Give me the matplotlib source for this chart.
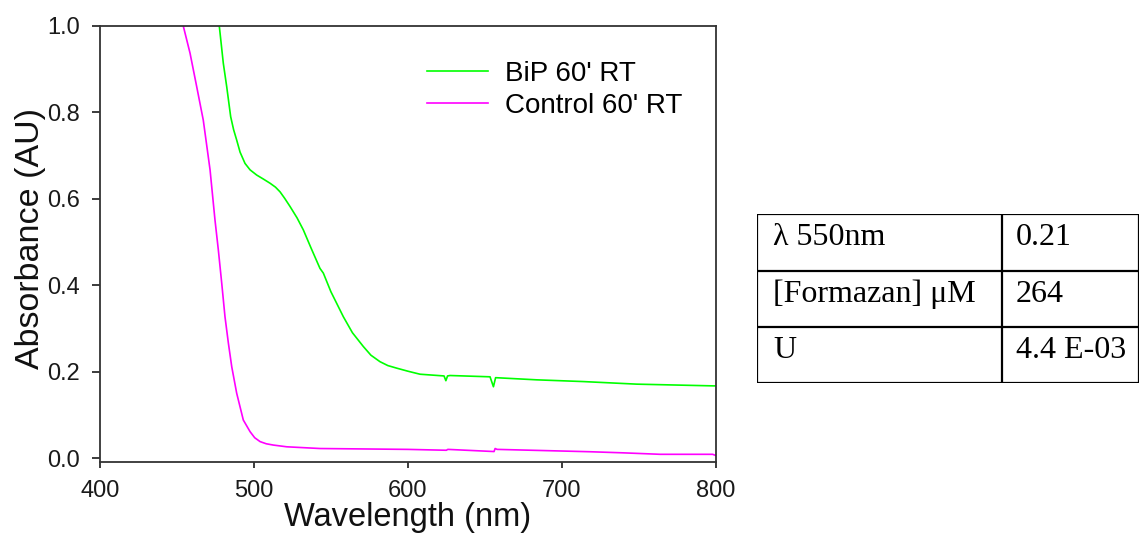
import numpy as np
import matplotlib.pyplot as plt

plt.rcParams['font.family'] = ['Liberation Sans', 'DejaVu Sans']

# BiP 60' RT spectrum
bip_wl = [477.5, 480.1, 482.3, 484.9, 486.8, 488.8, 491.0, 494.2, 497.5, 501.8,
          506.0, 510.5, 514.0, 517.0, 520.0, 523.5, 528.0, 532.1, 537.0, 542.9,
          545.1, 550.0, 558.1, 564.0, 571.1, 576.0, 581.9, 587.0, 592.8, 600.0,
          607.9, 623.5, 624.7, 625.8, 627.4, 653.4, 655.6, 657.0, 683.7, 713.8,
          748.7, 798.5, 800.0]
bip_abs = [1.0, 0.914, 0.860, 0.790, 0.760, 0.736, 0.708, 0.682, 0.667, 0.655,
           0.646, 0.636, 0.627, 0.616, 0.601, 0.582, 0.556, 0.528, 0.487, 0.439,
           0.428, 0.385, 0.327, 0.290, 0.258, 0.238, 0.223, 0.214, 0.208, 0.201,
           0.194, 0.190, 0.179, 0.190, 0.191, 0.188, 0.165, 0.186, 0.181, 0.177,
           0.171, 0.167, 0.167]

# Control 60' RT spectrum
ctl_wl = [454.1, 458.5, 462.8, 467.1, 471.5, 474.7, 476.9, 479.1, 481.2, 483.4,
          485.6, 488.8, 493.1, 497.5, 500.5, 504.0, 508.0, 512.6, 521.3, 543.0,
          600.0, 625.0, 626.0, 656.0, 656.7, 658.0, 718.0, 740.0, 764.0, 798.0,
          800.0]
ctl_abs = [1.0, 0.937, 0.860, 0.782, 0.667, 0.551, 0.481, 0.404, 0.327, 0.266,
           0.211, 0.150, 0.088, 0.061, 0.047, 0.038, 0.033, 0.030, 0.026, 0.022,
           0.020, 0.018, 0.020, 0.015, 0.022, 0.020, 0.0146, 0.012, 0.0086, 0.0086,
           0.006]

series_labels = ["BiP 60' RT", "Control 60' RT"]
series_colors = ['#00ff00', '#ff00ff']

x_ticks = [400, 500, 600, 700, 800]
y_ticks = [0.0, 0.2, 0.4, 0.6, 0.8, 1.0]

table_keys = ['\u03bb 550nm', '[Formazan] \u03bcM', 'U']
table_vals = ['0.21', '264', '4.4 E-03']

W, H = 1140, 533
fig = plt.figure(figsize=(W / 100, H / 100), dpi=100)
ax = fig.add_axes([100 / W, 1 - 461.7 / H, 615.7 / W, 435.7 / H])

ax.plot(bip_wl, bip_abs, color=series_colors[0], lw=1.2, label=series_labels[0])
ax.plot(ctl_wl, ctl_abs, color=series_colors[1], lw=1.2, label=series_labels[1])

ax.set_xlim(400, 800)
ax.set_ylim(-0.0085, 1.0)
ax.set_xticks(x_ticks)
ax.set_yticks(y_ticks)
ax.set_yticklabels(['%.1f' % v for v in y_ticks])
ax.tick_params(axis='both', labelsize=17, colors='#1a1a1a', width=1.2)
ax.tick_params(axis='y', length=5.5, pad=9)
ax.tick_params(axis='x', length=4, pad=9)

for s in ax.spines.values():
    s.set_color('#333333')
    s.set_linewidth(1.3)

ax.set_xlabel('Wavelength (nm)', fontsize=23.5, labelpad=0, color='#111111')
ax.set_ylabel('Absorbance (AU)', fontsize=24.5, color='#111111')
ax.yaxis.set_label_coords(-0.088, 0.513)

ax.legend(loc='upper left', bbox_to_anchor=(427 / W, 1 - 61 / H),
          bbox_transform=fig.transFigure, frameon=False, fontsize=20,
          handlelength=2.2, handletextpad=0.62, labelspacing=0.22,
          borderpad=0, borderaxespad=0)

# table on the right
tab = fig.add_axes([757 / W, 1 - 383 / H, (1139 - 757) / W, (383 - 214) / H])
tab.set_xlim(757, 1139)
tab.set_ylim(383, 214)
tab.axis('off')
row_edges = [214, 271, 327, 383]
for y in row_edges:
    tab.plot([757, 1139], [y, y], color='black', lw=1.6, solid_capstyle='projecting')
for x in [757, 1002, 1139]:
    tab.plot([x, x], [214, 383], color='black', lw=1.6, solid_capstyle='projecting')
for i, (k, v) in enumerate(zip(table_keys, table_vals)):
    yb = row_edges[i] + 31
    tab.text(773, yb, k, fontsize=23, family=['Liberation Serif', 'DejaVu Serif'],
             va='baseline', ha='left')
    tab.text(1016, yb, v, fontsize=23, family=['Liberation Serif', 'DejaVu Serif'],
             va='baseline', ha='left')

fig.savefig('out.png', dpi=100)
